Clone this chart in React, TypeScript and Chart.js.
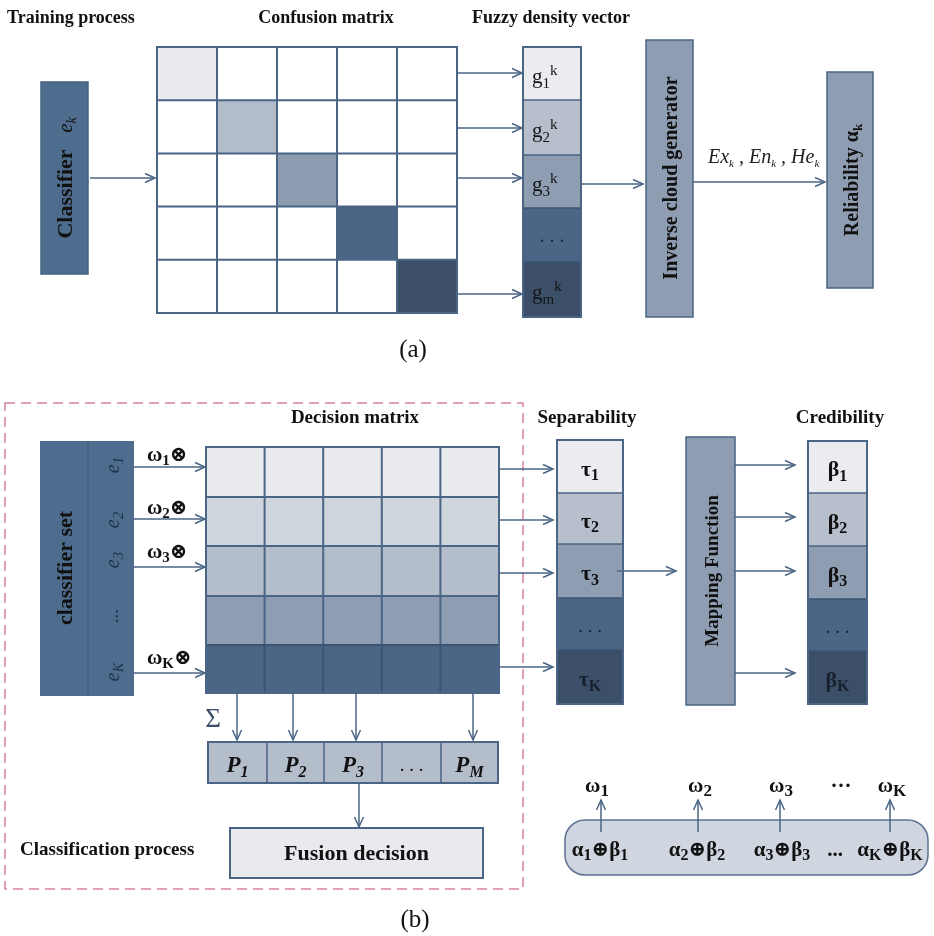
import React, { useEffect, useRef } from 'react';
import { Chart, registerables } from 'chart.js';

Chart.register(...registerables);

// ---------------- data (content) ----------------
const titlesA = ['Training process', 'Confusion matrix', 'Fuzzy density vector'];
const confusionSize = 5;
const diagColors = ['#e9ebef', '#b3bcc9', '#8d9cb0', '#4a6585', '#3b4f69'];
const fuzzyLabels = ['g_1^k', 'g_2^k', 'g_3^k', '. . .', 'g_m^k'];
const vectorColors = ['#eaecf0', '#b6bfcb', '#8e9db1', '#4a6585', '#3b4f69'];
const cloudLabel = 'Ex_k , En_k , He_k';

const titlesB = ['Decision matrix', 'Separability', 'Credibility'];
const classifierLabels = ['e_1', 'e_2', 'e_3', '...', 'e_K'];
const weightLabels = ['ω_1⊗', 'ω_2⊗', 'ω_3⊗', 'ω_K⊗'];
const decisionRowColors = ['#e8eaee', '#d0d6de', '#b4bdca', '#8e9db1', '#4a6585'];
const decisionCols = 5;
const tauLabels = ['τ_1', 'τ_2', 'τ_3', '. . .', 'τ_K'];
const betaLabels = ['β_1', 'β_2', 'β_3', '. . .', 'β_K'];
const probLabels = ['P_1', 'P_2', 'P_3', '. . .', 'P_M'];
const omegaOut = ['ω_1', 'ω_2', 'ω_3', '···', 'ω_K'];
const fusionTerms = ['α_1⊕β_1', 'α_2⊕β_2', 'α_3⊕β_3', '...', 'α_K⊕β_K'];

// ---------------- layout (diagram geometry in page units) ----------------
const LINE = '#4a6585';
const GRID_DARK = '#3c5472';
const DARK = '#4e6d8e';
const MID = '#8e9db1';
const FONT = '"Liberation Serif", "DejaVu Serif", serif';

const titleAPos = [{ x: 7, a: 'left' }, { x: 326, a: 'center' }, { x: 551, a: 'center' }];
const classifierA = { x0: 41, x1: 88, y0: 82, y1: 274 };
const confusion = { x0: 157, x1: 457, y0: 47, y1: 313 };
const fuzzy = { x0: 523, x1: 581, edges: [47, 100, 155, 208, 262, 317] };
const inverseBox = { x0: 646, x1: 693, y0: 40, y1: 317 };
const reliabilityBox = { x0: 827, x1: 873, y0: 72, y1: 288 };
const arrowsA = [
  [90, 178, 155, 178],
  [457, 73, 522, 73],
  [457, 128, 522, 128],
  [457, 178, 522, 178],
  [457, 294, 522, 294],
  [581, 184, 643, 184],
  [693, 182, 825, 182],
];

const dashed = { x0: 5, x1: 523, y0: 403, y1: 889 };
const titleBPos = [355, 587, 840];
const classifierSet = { x0: 40, xm: 88, x1: 134, y0: 441, y1: 696 };
const eY = [465, 520, 560, 616, 672];
const wY = [461, 514, 558, 664];
const decision = { x0: 206, x1: 499, edges: [447, 497, 546, 596, 645, 693] };
const sep = { x0: 557, x1: 623, edges: [440, 493, 544, 598, 650, 704] };
const mapBox = { x0: 686, x1: 735, y0: 437, y1: 705 };
const cred = { x0: 808, x1: 867, edges: [441, 493, 546, 599, 651, 704] };
const pRow = { y0: 742, y1: 783, edges: [208, 267, 324, 382, 441, 498] };
const fusionBox = { x0: 230, x1: 483, y0: 828, y1: 878 };
const roundBox = { x0: 565, x1: 928, y0: 820, y1: 875, r: 20 };
const omegaX = [597, 700, 781, 841, 892];
const termX = [600, 697, 782, 835, 890];
const arrowsB = [
  [134, 467, 205, 467], [134, 519, 205, 519], [134, 567, 205, 567], [134, 673, 205, 673],
  [499, 469, 553, 469], [499, 520, 553, 520], [499, 573, 553, 573], [499, 667, 553, 667],
  [617, 571, 676, 571],
  [735, 465, 795, 465], [735, 517, 795, 517], [735, 571, 795, 571], [735, 673, 795, 673],
  [237, 694, 237, 740], [293, 694, 293, 740], [356, 694, 356, 740], [473, 694, 473, 740],
  [359, 784, 359, 827],
  [601, 832, 601, 800], [698, 832, 698, 800], [780, 832, 780, 800], [890, 832, 890, 800],
];

// ---------------- rich text helpers ----------------
type Seg = { t: string; m: number };
function parse(s: string): Seg[] {
  const out: Seg[] = [];
  let buf = '';
  let i = 0;
  while (i < s.length) {
    const c = s[i];
    if (c === '_' || c === '^') {
      if (buf) { out.push({ t: buf, m: 0 }); buf = ''; }
      let t = '';
      if (s[i + 1] === '{') { const k = s.indexOf('}', i + 1); t = s.slice(i + 2, k); i = k + 1; }
      else { t = s[i + 1]; i += 2; }
      out.push({ t, m: c === '_' ? 1 : 2 });
    } else { buf += c; i++; }
  }
  if (buf) out.push({ t: buf, m: 0 });
  return out;
}

type TOpt = { size: number; bold?: boolean; italic?: boolean; align?: string; color?: string; middle?: boolean; sub?: number };
function fontOf(o: TOpt, small: boolean) {
  const sz = small ? Math.round(o.size * (o.sub || 0.66)) : o.size;
  return `${o.italic ? 'italic ' : ''}${o.bold ? 'bold ' : ''}${sz}px ${FONT}`;
}
function drawRich(ctx: CanvasRenderingContext2D, s: string, x: number, y: number, o: TOpt) {
  const segs = parse(s);
  let w = 0;
  for (const g of segs) { ctx.font = fontOf(o, g.m !== 0); w += ctx.measureText(g.t).width; }
  let cx = x;
  if (o.align === 'center') cx = x - w / 2;
  else if (o.align === 'right') cx = x - w;
  const base = o.middle ? y + o.size * 0.33 : y;
  ctx.fillStyle = o.color || '#111';
  ctx.textBaseline = 'alphabetic';
  ctx.textAlign = 'left';
  for (const g of segs) {
    ctx.font = fontOf(o, g.m !== 0);
    const dy = g.m === 1 ? o.size * 0.2 : g.m === 2 ? -o.size * 0.38 : 0;
    ctx.fillText(g.t, cx, base + dy);
    cx += ctx.measureText(g.t).width;
  }
}

const diagramPlugin = {
  id: 'diagram',
  afterDraw(chart: any) {
    const ctx: CanvasRenderingContext2D = chart.ctx;
    const xs = chart.scales.x;
    const ys = chart.scales.y;
    const X = (v: number) => xs.getPixelForValue(v);
    const Y = (v: number) => ys.getPixelForValue(v);

    const rect = (x0: number, y0: number, x1: number, y1: number, fill: string | null, stroke: string | null, lw = 1.5) => {
      if (fill) { ctx.fillStyle = fill; ctx.fillRect(X(x0), Y(y0), X(x1) - X(x0), Y(y1) - Y(y0)); }
      if (stroke) { ctx.strokeStyle = stroke; ctx.lineWidth = lw; ctx.strokeRect(X(x0), Y(y0), X(x1) - X(x0), Y(y1) - Y(y0)); }
    };
    const seg = (x0: number, y0: number, x1: number, y1: number, color: string, lw: number) => {
      ctx.strokeStyle = color; ctx.lineWidth = lw;
      ctx.beginPath(); ctx.moveTo(X(x0), Y(y0)); ctx.lineTo(X(x1), Y(y1)); ctx.stroke();
    };
    const text = (s: string, x: number, y: number, o: TOpt) => drawRich(ctx, s, X(x), Y(y), o);
    const rtext = (s: string, x: number, y: number, o: TOpt) => {
      ctx.save();
      ctx.translate(X(x), Y(y));
      ctx.rotate(-Math.PI / 2);
      drawRich(ctx, s, 0, 0, { ...o, align: 'center', middle: true });
      ctx.restore();
    };
    const arrow = (a: number[]) => {
      const [x0, y0, x1, y1] = a.map((v, i) => (i % 2 === 0 ? X(v) : Y(v)));
      const dx = x1 - x0, dy = y1 - y0;
      const len = Math.hypot(dx, dy);
      const ux = dx / len, uy = dy / len;
      ctx.strokeStyle = LINE;
      ctx.lineWidth = 1.5;
      ctx.beginPath();
      ctx.moveTo(x0, y0);
      ctx.lineTo(x1, y1);
      ctx.stroke();
      ctx.beginPath();
      ctx.moveTo(x1 - ux * 10 - uy * 4.5, y1 - uy * 10 + ux * 4.5);
      ctx.lineTo(x1, y1);
      ctx.lineTo(x1 - ux * 10 + uy * 4.5, y1 - uy * 10 - ux * 4.5);
      ctx.stroke();
    };
    const column = (c: { x0: number; x1: number; edges: number[] }, colors: string[]) => {
      for (let i = 0; i < colors.length; i++) rect(c.x0, c.edges[i], c.x1, c.edges[i + 1], colors[i], null);
      for (let i = 1; i < colors.length; i++) seg(c.x0, c.edges[i], c.x1, c.edges[i], i >= 3 ? GRID_DARK : LINE, 1.5);
      rect(c.x0, c.edges[0], c.x1, c.edges[colors.length], null, LINE, 2);
    };

    ctx.save();
    ctx.fillStyle = '#ffffff';
    ctx.fillRect(0, 0, chart.width, chart.height);

    // ===== (a) =====
    titlesA.forEach((t, i) => text(t, titleAPos[i].x, 23, { size: 18, bold: true, align: titleAPos[i].a }));
    rect(classifierA.x0, classifierA.y0, classifierA.x1, classifierA.y1, DARK, '#456283', 1.5);
    rtext('Classifier', 65, 194, { size: 22, bold: true });
    rtext('e_k', 65, 125, { size: 21, italic: true });

    // confusion matrix
    const cw = (confusion.x1 - confusion.x0) / confusionSize;
    const chh = (confusion.y1 - confusion.y0) / confusionSize;
    for (let r = 0; r < confusionSize; r++) {
      for (let c = 0; c < confusionSize; c++) {
        rect(confusion.x0 + c * cw, confusion.y0 + r * chh, confusion.x0 + (c + 1) * cw, confusion.y0 + (r + 1) * chh,
          r === c ? diagColors[r] : '#ffffff', null);
      }
    }
    for (let i = 1; i < confusionSize; i++) {
      seg(confusion.x0 + i * cw, confusion.y0, confusion.x0 + i * cw, confusion.y1, LINE, 2);
      seg(confusion.x0, confusion.y0 + i * chh, confusion.x1, confusion.y0 + i * chh, LINE, 2);
    }
    rect(confusion.x0, confusion.y0, confusion.x1, confusion.y1, null, LINE, 2);

    column(fuzzy, vectorColors);
    fuzzyLabels.forEach((l, i) => {
      const cy = (fuzzy.edges[i] + fuzzy.edges[i + 1]) / 2;
      if (l.startsWith('.')) text(l, (fuzzy.x0 + fuzzy.x1) / 2, cy, { size: 20, align: 'center', middle: true, color: '#1c2a3a' });
      else text(l, 532, cy + 3, { size: 21, middle: true, color: '#151515', sub: 0.7 });
    });

    rect(inverseBox.x0, inverseBox.y0, inverseBox.x1, inverseBox.y1, MID, LINE, 1.5);
    rtext('Inverse cloud generator', (inverseBox.x0 + inverseBox.x1) / 2 + 1, 178, { size: 20, bold: true });
    text(cloudLabel, 708, 163, { size: 20, italic: true, color: '#222', sub: 0.55 });
    rect(reliabilityBox.x0, reliabilityBox.y0, reliabilityBox.x1, reliabilityBox.y1, MID, LINE, 1.5);
    rtext('Reliability α_k', (reliabilityBox.x0 + reliabilityBox.x1) / 2 + 1, 180, { size: 20, bold: true });
    arrowsA.forEach(arrow);
    text('(a)', 413, 357, { size: 25, align: 'center' });

    // ===== (b) =====
    ctx.save();
    ctx.setLineDash([10, 6]);
    ctx.strokeStyle = '#d9829f';
    ctx.lineWidth = 1.5;
    ctx.strokeRect(X(dashed.x0), Y(dashed.y0), X(dashed.x1) - X(dashed.x0), Y(dashed.y1) - Y(dashed.y0));
    ctx.restore();

    titlesB.forEach((t, i) => text(t, titleBPos[i], 423, { size: 19, bold: true, align: 'center' }));

    rect(classifierSet.x0, classifierSet.y0, classifierSet.x1, classifierSet.y1, DARK, null);
    seg(classifierSet.xm, classifierSet.y0, classifierSet.xm, classifierSet.y1, '#3f5874', 1);
    rtext('classifier set', 65, 568, { size: 22, bold: true });
    classifierLabels.forEach((l, i) => {
      if (l === '...') rtext('...', 112, eY[i], { size: 19, color: '#1d3048' });
      else rtext(l, 112, eY[i], { size: 20, italic: true, color: '#1d3048', sub: 0.75 });
    });
    weightLabels.forEach((l, i) => text(l, 147, wY[i], { size: 21, bold: true, sub: 0.72 }));

    // decision matrix
    const dw = (decision.x1 - decision.x0) / decisionCols;
    decisionRowColors.forEach((col, r) => rect(decision.x0, decision.edges[r], decision.x1, decision.edges[r + 1], col, null));
    for (let i = 1; i < decisionCols; i++) {
      seg(decision.x0 + i * dw, decision.edges[0], decision.x0 + i * dw, decision.edges[4], LINE, 2);
      seg(decision.x0 + i * dw, decision.edges[4], decision.x0 + i * dw, decision.edges[5], GRID_DARK, 2);
    }
    for (let i = 1; i < 5; i++) seg(decision.x0, decision.edges[i], decision.x1, decision.edges[i], i === 4 ? GRID_DARK : LINE, 2);
    rect(decision.x0, decision.edges[0], decision.x1, decision.edges[5], null, LINE, 2);

    column(sep, vectorColors);
    tauLabels.forEach((l, i) => {
      const cy = (sep.edges[i] + sep.edges[i + 1]) / 2;
      const dots = l.startsWith('.');
      text(l, (sep.x0 + sep.x1) / 2, cy + 2, { size: dots ? 19 : 22, bold: !dots, align: 'center', middle: true, color: i >= 3 ? '#18222e' : '#111', sub: 0.72 });
    });
    rect(mapBox.x0, mapBox.y0, mapBox.x1, mapBox.y1, MID, LINE, 1.5);
    rtext('Mapping Function', (mapBox.x0 + mapBox.x1) / 2 + 1, 571, { size: 19, bold: true });
    column(cred, vectorColors);
    betaLabels.forEach((l, i) => {
      const cy = (cred.edges[i] + cred.edges[i + 1]) / 2;
      const dots = l.startsWith('.');
      text(l, (cred.x0 + cred.x1) / 2, cy + 2, { size: dots ? 19 : 22, bold: !dots, align: 'center', middle: true, color: i >= 3 ? '#18222e' : '#111', sub: 0.72 });
    });

    text('Σ', 213, 718, { size: 27, align: 'center', middle: true, color: '#3b4f69' });

    // P row
    for (let i = 0; i < probLabels.length; i++) rect(pRow.edges[i], pRow.y0, pRow.edges[i + 1], pRow.y1, '#b4bdca', null);
    for (let i = 1; i < probLabels.length; i++) seg(pRow.edges[i], pRow.y0, pRow.edges[i], pRow.y1, LINE, 1.5);
    rect(pRow.edges[0], pRow.y0, pRow.edges[5], pRow.y1, null, LINE, 2);
    probLabels.forEach((l, i) => {
      const cx = (pRow.edges[i] + pRow.edges[i + 1]) / 2;
      const dots = l.startsWith('.');
      text(l, cx, (pRow.y0 + pRow.y1) / 2 + 2, { size: dots ? 19 : 23, bold: !dots, italic: !dots, align: 'center', middle: true, sub: 0.7 });
    });

    rect(fusionBox.x0, fusionBox.y0, fusionBox.x1, fusionBox.y1, '#e8eaee', LINE, 2);
    text('Fusion decision', (fusionBox.x0 + fusionBox.x1) / 2, (fusionBox.y0 + fusionBox.y1) / 2, { size: 22, bold: true, align: 'center', middle: true });
    text('Classification process', 20, 855, { size: 19, bold: true });

    // bottom-right rounded box
    ctx.beginPath();
    const rb = roundBox;
    (ctx as any).roundRect(X(rb.x0), Y(rb.y0), X(rb.x1) - X(rb.x0), Y(rb.y1) - Y(rb.y0), rb.r);
    ctx.fillStyle = '#cfd6df';
    ctx.fill();
    ctx.strokeStyle = '#5b7190';
    ctx.lineWidth = 1.5;
    ctx.stroke();
    omegaOut.forEach((l, i) => text(l, omegaX[i], 792, { size: 21, bold: true, align: 'center', sub: 0.8 }));
    fusionTerms.forEach((l, i) => text(l, termX[i], 856, { size: 21, bold: true, align: 'center', sub: 0.78 }));

    arrowsB.forEach(arrow);
    text('(b)', 415, 927, { size: 25, align: 'center' });
    ctx.restore();
  },
};

export default function App() {
  const ref = useRef<HTMLCanvasElement | null>(null);
  useEffect(() => {
    if (!ref.current) return;
    const chart = new Chart(ref.current, {
      type: 'scatter',
      data: { datasets: [{ data: [], pointRadius: 0 }] },
      options: {
        responsive: false,
        animation: false,
        events: [],
        layout: { padding: 0 },
        plugins: { legend: { display: false }, tooltip: { enabled: false } },
        scales: {
          x: { type: 'linear', min: 0, max: 934, display: false },
          y: { type: 'linear', min: 0, max: 936, reverse: true, display: false },
        },
      },
      plugins: [diagramPlugin],
    } as any);
    return () => chart.destroy();
  }, []);
  return (
    <div style={{ position: 'absolute', left: 0, top: 0, width: 934, height: 936, background: '#fff' }}>
      <canvas ref={ref} width={934} height={936} style={{ display: 'block', width: 934, height: 936 }} />
    </div>
  );
}
